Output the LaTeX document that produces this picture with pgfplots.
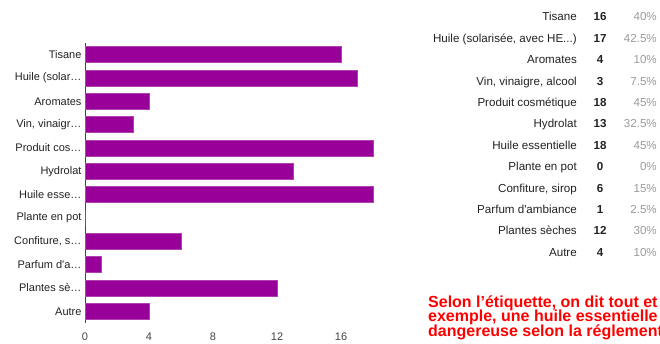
\documentclass[border=0pt]{standalone}
\usepackage{pgfplots}
\pgfplotsset{compat=1.18}
\usepackage{fontspec}
\setmainfont{Liberation Sans}[Ligatures=TeXOff]
\definecolor{barpurple}{HTML}{990099}
\definecolor{baredge}{HTML}{B040B0}
\definecolor{lbl}{HTML}{222222}
\definecolor{tick}{HTML}{444444}
\definecolor{pct}{HTML}{9A9A9A}
\definecolor{redtxt}{HTML}{FF0000}
\newcommand{\f}{\fontsize{11bp}{13bp}\selectfont}
\newcommand{\ft}{\fontsize{11.6bp}{13bp}\selectfont}
\newcommand{\row}[4]{%
  \node[anchor=base east, text=lbl, inner sep=0pt, font=\ft] at (577bp,#1bp) {#2};
  \node[anchor=base, text=lbl, inner sep=0pt, font=\ft\bfseries] at (600bp,#1bp) {#3};
  \node[anchor=base east, text=pct, inner sep=0pt, font=\ft] at (657bp,#1bp) {#4};
}
\begin{document}
\begin{tikzpicture}
\useasboundingbox (0,0) rectangle (660bp,344bp);
\clip (0,0) rectangle (660bp,344bp);
\begin{axis}[
  at={(85bp,21bp)}, anchor=south west,
  scale only axis, width=296bp, height=280bp,
  xbar, bar width=16bp,
  xmin=0, xmax=18.5,
  ymin=-0.5, ymax=11.5, y dir=reverse,
  axis lines*=left,
  x axis line style={draw=none},
  y axis line style={draw=tick, line width=0.8pt},
  xtick={0,4,8,12,16},
  ytick={0,...,11},
  yticklabels={Tisane, Huile (solar…, Aromates, {Vin, vinaigr…}, Produit cos…, Hydrolat, Huile esse…, Plante en pot, {Confiture, s…}, Parfum d'a…, Plantes sè…, Autre},
  major tick length=0pt,
  tick label style={font=\f},
  yticklabel style={text=lbl},
  xticklabel style={text=tick, yshift=-6bp},
  /pgf/number format/assume math mode=true,
  clip=false,
]
\addplot[fill=barpurple, draw=baredge, line width=0.5pt] coordinates {
  (16,0) (17,1) (4,2) (3,3) (18,4) (13,5) (18,6) (0,7) (6,8) (1,9) (12,10) (4,11)
};
\end{axis}
\row{323}{Tisane}{16}{40\%}
\row{301.6}{Huile (solarisée, avec HE...)}{17}{42.5\%}
\row{280.2}{Aromates}{4}{10\%}
\row{258.8}{Vin, vinaigre, alcool}{3}{7.5\%}
\row{237.4}{Produit cosmétique}{18}{45\%}
\row{216}{Hydrolat}{13}{32.5\%}
\row{194.6}{Huile essentielle}{18}{45\%}
\row{173.2}{Plante en pot}{0}{0\%}
\row{151.8}{Confiture, sirop}{6}{15\%}
\row{130.4}{Parfum d'ambiance}{1}{2.5\%}
\row{109}{Plantes sèches}{12}{30\%}
\row{87.6}{Autre}{4}{10\%}
\node[anchor=base west, inner sep=0pt, text=redtxt, font=\fontsize{16bp}{16bp}\selectfont\bfseries] at (428bp,37bp) {Selon l’étiquette, on dit tout et};
\node[anchor=base west, inner sep=0pt, text=redtxt, font=\fontsize{16bp}{16bp}\selectfont\bfseries] at (428bp,22.5bp) {exemple, une huile essentielle};
\node[anchor=base west, inner sep=0pt, text=redtxt, font=\fontsize{16bp}{16bp}\selectfont\bfseries] at (428bp,8bp) {dangereuse selon la réglement};
\end{tikzpicture}
\end{document}
